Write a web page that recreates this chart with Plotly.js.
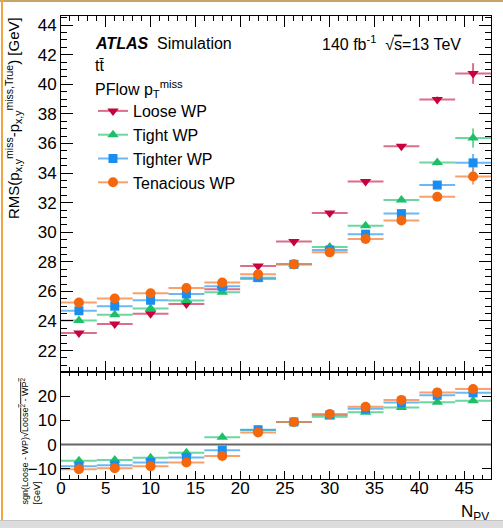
<!DOCTYPE html>
<html>
<head>
<meta charset="utf-8">
<script src="https://cdn.plot.ly/plotly-3.0.1.min.js"></script>
<style>
  html, body { margin: 0; padding: 0; background: #ffffff; }
  #chart { width: 503px; height: 528px; position: absolute; left: 0; top: 0; }
  .frame-top { position: absolute; left: 0; top: 0; width: 503px; height: 2px; background: #c8a468; }
  .frame-left { position: absolute; left: 1px; top: 0; width: 2px; height: 528px; background: #f0a542; }
  .frame-bottom { position: absolute; left: 0; top: 520px; width: 503px; height: 8px; background: #dcdcdc; border-top: 1px solid #c4c4c4; }
</style>
</head>
<body>
<div id="chart"></div>
<div class="frame-top"></div>
<div class="frame-left"></div>
<div class="frame-bottom"></div>
<script>
// ---- data ----
const npv = [2, 6, 10, 14, 18, 22, 26, 30, 34, 38, 42, 46];
const binHalfWidth = 2;

const rmsLoose     = [23.19, 23.79, 24.48, 25.15, 26.15, 27.72, 29.38, 31.30, 33.43, 35.81, 38.98, 40.73];
const rmsTight     = [24.03, 24.42, 24.84, 25.38, 25.94, 26.84, 27.83, 29.00, 30.43, 32.18, 34.71, 36.37];
const rmsTighter   = [24.69, 25.00, 25.40, 25.83, 26.34, 26.93, 27.83, 28.80, 29.87, 31.26, 33.19, 34.69];
const rmsTenacious = [25.25, 25.52, 25.88, 26.23, 26.60, 27.16, 27.83, 28.64, 29.55, 30.79, 32.40, 33.77];

const errLoose     = [0.08, 0.08, 0.08, 0.08, 0.08, 0.08, 0.1, 0.1, 0.12, 0.15, 0.2, 0.7];
const errTight     = [0.08, 0.08, 0.08, 0.08, 0.08, 0.08, 0.1, 0.1, 0.12, 0.15, 0.2, 0.65];
const errTighter   = [0.08, 0.08, 0.08, 0.08, 0.08, 0.08, 0.1, 0.1, 0.12, 0.15, 0.2, 0.6];
const errTenacious = [0.08, 0.08, 0.08, 0.08, 0.08, 0.08, 0.1, 0.1, 0.12, 0.15, 0.2, 0.55];

const diffTight     = [-6.7, -6.4, -5.4, -3.4, 3.0, 6.0, 9.3, 11.5, 13.3, 15.3, 17.4, 18.0];
const diffTighter   = [-8.9, -8.5, -7.4, -5.3, -2.3, 6.1, 9.3, 12.2, 14.8, 17.3, 20.3, 21.3];
const diffTenacious = [-10.2, -9.8, -8.9, -7.4, -4.7, 5.0, 9.3, 12.6, 15.6, 18.4, 21.5, 22.9];

const seriesNames = ['Loose WP', 'Tight WP', 'Tighter WP', 'Tenacious WP'];
const xTickVals = [0, 5, 10, 15, 20, 25, 30, 35, 40, 45];
const yTopTickVals = [22, 24, 26, 28, 30, 32, 34, 36, 38, 40, 42, 44];
const yBotTickVals = [-10, 0, 10, 20];

// ---- styles ----
const colors   = ['#c8003f', '#1fbf68', '#1a8ef0', '#f5670c'];
const barCols  = ['rgba(208,60,100,0.75)', 'rgba(60,200,130,0.75)', 'rgba(60,160,240,0.75)', 'rgba(245,130,60,0.75)'];
const symbols  = ['triangle-down', 'triangle-up', 'square', 'circle'];
const msize    = [10, 10, 9, 10];
const FONT = 'Liberation Sans, Arial, Helvetica, sans-serif';

const upper = [rmsLoose, rmsTight, rmsTighter, rmsTenacious];
const upperErr = [errLoose, errTight, errTighter, errTenacious];
const lower = [null, diffTight, diffTighter, diffTenacious];

const traces = [];
for (let i = 0; i < 4; i++) {
  traces.push({
    x: npv, y: upper[i], xaxis: 'x2', yaxis: 'y2', type: 'scatter', mode: 'markers',
    marker: { symbol: symbols[i], size: msize[i], color: colors[i] },
    error_x: { type: 'constant', value: binHalfWidth, width: 0, thickness: 2, color: barCols[i] },
    error_y: { type: 'data', array: upperErr[i], width: 0, thickness: 2, color: barCols[i] },
    showlegend: false, hoverinfo: 'skip'
  });
}
for (let i = 1; i < 4; i++) {
  traces.push({
    x: npv, y: lower[i], xaxis: 'x', yaxis: 'y', type: 'scatter', mode: 'markers',
    marker: { symbol: symbols[i], size: msize[i], color: colors[i] },
    error_x: { type: 'constant', value: binHalfWidth, width: 0, thickness: 2, color: barCols[i] },
    showlegend: false, hoverinfo: 'skip'
  });
}
// legend entries
for (let i = 0; i < 4; i++) {
  traces.push({
    x: [null], y: [null], xaxis: 'x2', yaxis: 'y2', type: 'scatter', mode: 'lines+markers',
    name: seriesNames[i],
    line: { color: barCols[i], width: 2 },
    marker: { symbol: symbols[i], size: msize[i], color: colors[i] },
    showlegend: true, hoverinfo: 'skip'
  });
}

// pixel -> paper helpers for text placement
const L = 61, R = 12, T = 16, B = 49, W = 503, H = 528;
const pw = W - L - R, ph = H - T - B;
const px = v => (v - L) / pw;
const py = v => (H - B - v) / ph;
const split = (479 - 372) / ph;

const axisCommon = {
  showline: true, linecolor: '#000', linewidth: 1, mirror: 'allticks',
  ticks: 'inside', tickcolor: '#000', zeroline: false, showgrid: false,
  tickfont: { family: FONT, size: 17, color: '#000' }
};

const layout = {
  width: W, height: H,
  margin: { l: L, r: R, t: T, b: B, pad: 0 },
  paper_bgcolor: 'rgba(0,0,0,0)', plot_bgcolor: '#ffffff',
  font: { family: FONT, color: '#000' },
  showlegend: true,
  legend: {
    x: px(93), y: py(94), xanchor: 'left', yanchor: 'top',
    font: { family: FONT, size: 16, color: '#000' },
    bgcolor: 'rgba(0,0,0,0)', borderwidth: 0, traceorder: 'normal'
  },
  xaxis: Object.assign({}, axisCommon, {
    domain: [0, 1], anchor: 'y', range: [0, 48],
    tickvals: xTickVals, ticklen: 8, ticklabelstandoff: -6,
    minor: { dtick: 1, ticklen: 4, ticks: 'inside', tickcolor: '#000' }
  }),
  xaxis2: Object.assign({}, axisCommon, {
    domain: [0, 1], anchor: 'y2', range: [0, 48], matches: 'x',
    tickvals: xTickVals, ticklen: 11, showticklabels: false,
    minor: { dtick: 1, ticklen: 5, ticks: 'inside', tickcolor: '#000' }
  }),
  yaxis: Object.assign({}, axisCommon, {
    domain: [0, split], anchor: 'x', range: [-14.2, 29.9],
    tickvals: yBotTickVals, ticklen: 9
  }),
  yaxis2: Object.assign({}, axisCommon, {
    domain: [split, 1], anchor: 'x2', range: [20.55, 44.62],
    tickvals: yTopTickVals, ticklen: 12,
    minor: { dtick: 0.5, ticklen: 6, ticks: 'inside', tickcolor: '#000' }
  }),
  shapes: [
    { type: 'line', xref: 'paper', yref: 'y', x0: 0, x1: 1, y0: 0, y1: 0,
      line: { color: '#666', width: 2 } }
  ],
  annotations: [
    { xref: 'paper', yref: 'paper', x: px(93), y: py(43), xanchor: 'left', yanchor: 'middle',
      text: '<b><i>ATLAS</i></b>  Simulation', showarrow: false,
      font: { family: FONT, size: 16, color: '#000' } },
    { xref: 'paper', yref: 'paper', x: px(463), y: py(43), xanchor: 'right', yanchor: 'middle',
      text: '140 fb<sup>-1</sup>  √<span style="text-decoration:overline">s</span>=13 TeV', showarrow: false,
      font: { family: FONT, size: 16, color: '#000' } },
    { xref: 'paper', yref: 'paper', x: px(93), y: py(66), xanchor: 'left', yanchor: 'middle',
      text: 'tt\u0304', showarrow: false,
      font: { family: FONT, size: 16, color: '#000' } },
    { xref: 'paper', yref: 'paper', x: px(93), y: py(89), xanchor: 'left', yanchor: 'middle',
      text: 'PFlow p<sub>T</sub><sup>miss</sup>', showarrow: false,
      font: { family: FONT, size: 16, color: '#000' } },
    { xref: 'paper', yref: 'paper', x: px(13), y: py(15), xanchor: 'center', yanchor: 'top',
      textangle: -90,
      text: 'RMS(p<sub>x,y</sub><sup>miss</sup>-p<sub>x,y</sub><sup>miss,True</sup>) [GeV]', showarrow: false,
      font: { family: FONT, size: 15, color: '#000' } },
    { xref: 'paper', yref: 'paper', x: px(25), y: py(507), xanchor: 'center', yanchor: 'bottom',
      textangle: -90,
      text: 'sgn(Loose - WP)√<span style="text-decoration:overline">Loose<sup>2</sup> - WP<sup>2</sup></span>', showarrow: false,
      font: { family: FONT, size: 9, color: '#000' } },
    { xref: 'paper', yref: 'paper', x: px(37), y: py(507), xanchor: 'center', yanchor: 'bottom',
      textangle: -90,
      text: '[GeV]', showarrow: false,
      font: { family: FONT, size: 9, color: '#000' } },
    { xref: 'paper', yref: 'paper', x: 1, y: py(513), xanchor: 'right', yanchor: 'middle',
      text: 'N<sub>PV</sub>', showarrow: false,
      font: { family: FONT, size: 17, color: '#000' } }
  ]
};

Plotly.newPlot('chart', traces, layout, { displayModeBar: false, staticPlot: true });
</script>
</body>
</html>
